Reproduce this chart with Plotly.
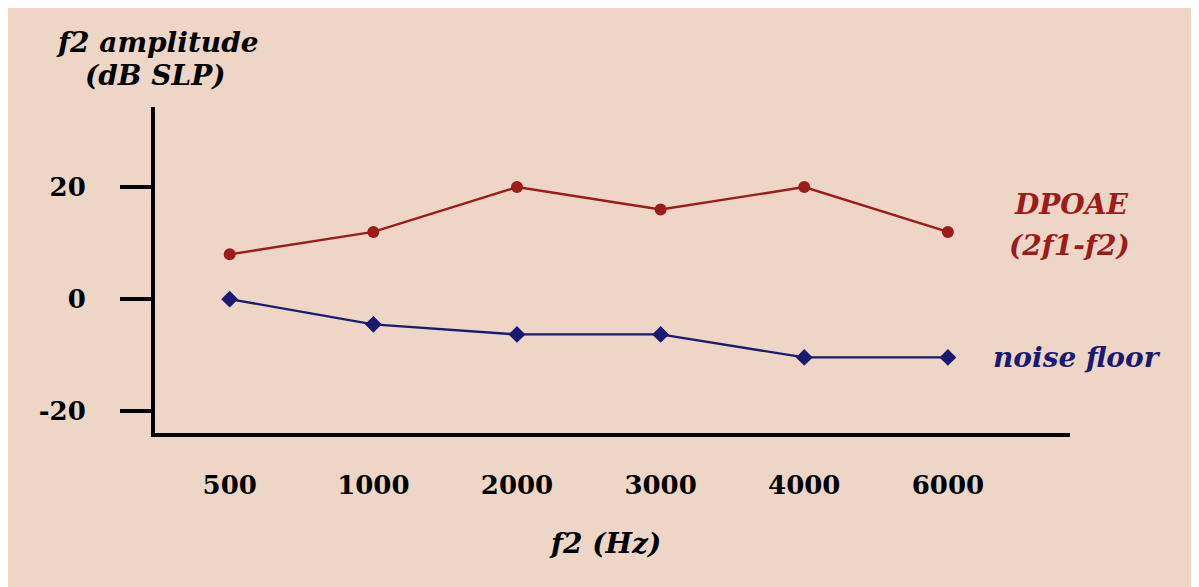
import plotly.graph_objects as go

freqs = ["500", "1000", "2000", "3000", "4000", "6000"]
dpoae = [8, 12, 20, 16, 20, 12]
noise_floor = [0, -4.5, -6.3, -6.3, -10.4, -10.4]
y_ticks = [-20, 0, 20]
y_tick_text = ["-20", "0", "20"]

BG = "#EDD6C5"
RED = "#9E1B1B"
NAVY = "#1B1A72"
FONT = "DejaVu Serif"

# page offset caused by the browser's default body margin
OFF = 8
L, T = 155 - OFF, 107 - OFF
PW, PH = 915, 326
R = 1199 - L - PW
B = 587 - T - PH

fig = go.Figure()
fig.add_trace(go.Scatter(
    x=freqs, y=dpoae, mode="lines+markers",
    line=dict(color=RED, width=2.4),
    marker=dict(symbol="circle", size=12, color=RED),
    showlegend=False, hoverinfo="skip"))
fig.add_trace(go.Scatter(
    x=freqs, y=noise_floor, mode="lines+markers",
    line=dict(color=NAVY, width=2.4),
    marker=dict(symbol="diamond", size=13, color=NAVY),
    showlegend=False, hoverinfo="skip"))

fig.update_layout(
    width=1199, height=587,
    margin=dict(l=L, r=R, t=T, b=B),
    paper_bgcolor=BG, plot_bgcolor=BG,
    font=dict(family=FONT, color="black"),
    xaxis=dict(type="category", range=[-0.52, 5.85],
               showline=True, linewidth=4, linecolor="black",
               showgrid=False, zeroline=False, ticks="",
               tickfont=dict(family=FONT, size=26, weight="bold"),
               ticklabelstandoff=26),
    yaxis=dict(range=[-23.9, 34.3], tickvals=y_ticks, ticktext=y_tick_text,
               showline=True, linewidth=4, linecolor="black",
               showgrid=False, zeroline=False,
               ticks="outside", ticklen=31, tickwidth=4, tickcolor="black",
               tickfont=dict(family=FONT, size=26, weight="bold"),
               ticklabelstandoff=29),
)

ann = [
    dict(text="<b><i>f2 amplitude</i></b>", x=157, y=42, color="black"),
    dict(text="<b><i>(dB SLP)</i></b>", x=155, y=76, color="black"),
    dict(text="<b><i>f2 (Hz)</i></b>", x=605, y=543, color="black"),
    dict(text="<b><i>DPOAE</i></b>", x=1071, y=204, color=RED),
    dict(text="<b><i>(2f1-f2)</i></b>", x=1069, y=245, color=RED),
    dict(text="<b><i>noise floor</i></b>", x=1077, y=357, color=NAVY),
]
for a in ann:
    fig.add_annotation(
        text=a["text"], xref="paper", yref="paper",
        x=(a["x"] - OFF - L) / PW,
        y=1 - (a["y"] - OFF - T) / PH,
        xanchor="center", yanchor="middle", showarrow=False,
        font=dict(family=FONT, size=28, color=a["color"]))

fig.write_html("out.html")
